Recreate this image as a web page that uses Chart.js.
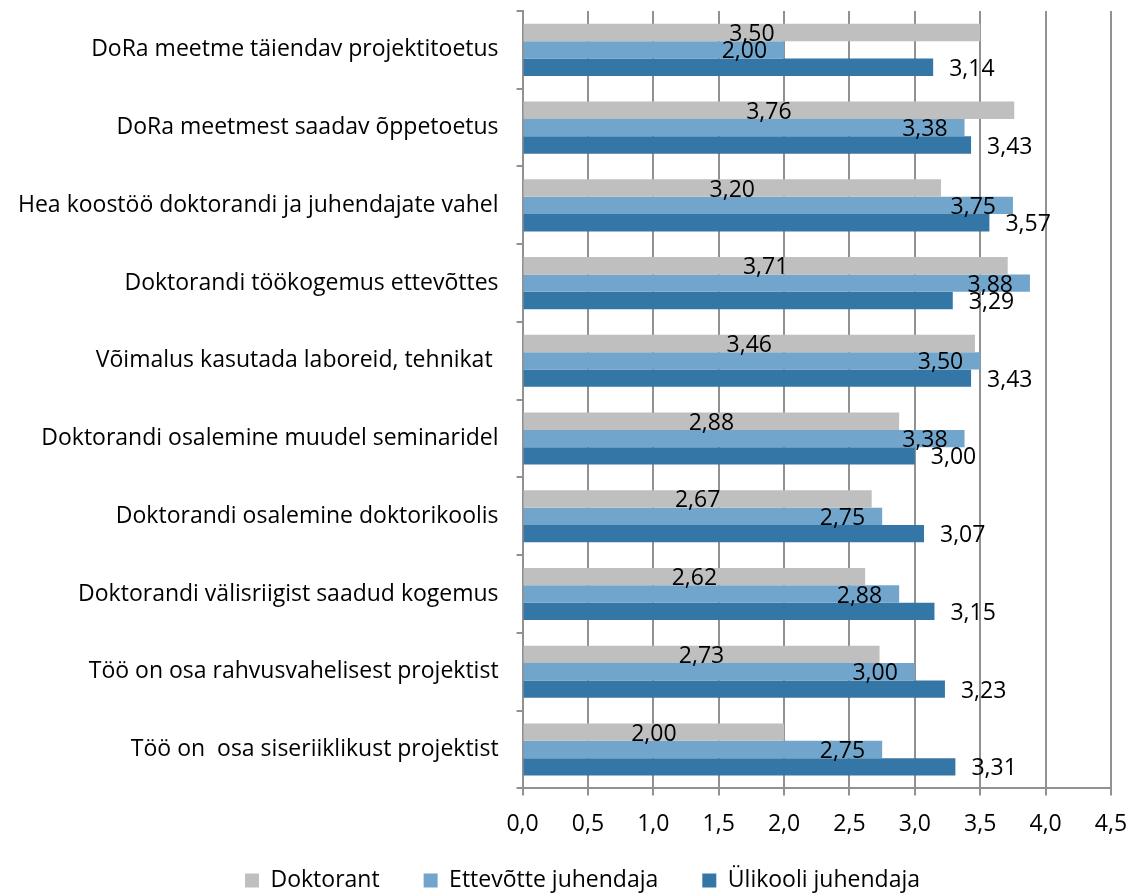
<!DOCTYPE html>
<html>
<head>
<meta charset="utf-8">
<script src="https://cdn.jsdelivr.net/npm/chart.js@4/dist/chart.umd.min.js"></script>
<style>
  html, body { margin: 0; padding: 0; background: #fff; }
  #wrap { width: 1134px; height: 893px; }
</style>
</head>
<body>
<div id="wrap"><canvas id="chart"></canvas></div>
<script>
// Categories (top to bottom) and series values
const categories = [
  'DoRa meetme täiendav projektitoetus',
  'DoRa meetmest saadav õppetoetus',
  'Hea koostöö doktorandi ja juhendajate vahel',
  'Doktorandi töökogemus ettevõttes',
  'Võimalus kasutada laboreid, tehnikat ',
  'Doktorandi osalemine muudel seminaridel',
  'Doktorandi osalemine doktorikoolis',
  'Doktorandi välisriigist saadud kogemus',
  'Töö on osa rahvusvahelisest projektist',
  'Töö on  osa siseriiklikust projektist'
];
const doktorant = [3.50, 3.76, 3.20, 3.71, 3.46, 2.88, 2.67, 2.62, 2.73, 2.00];
const ettevotteJuhendaja = [2.00, 3.38, 3.75, 3.88, 3.50, 3.38, 2.75, 2.88, 3.00, 2.75];
const ylikooliJuhendaja = [3.14, 3.43, 3.57, 3.29, 3.43, 3.00, 3.07, 3.15, 3.23, 3.31];
const seriesNames = ['Doktorant', 'Ettevõtte juhendaja', 'Ülikooli juhendaja'];

const FONT = '"Open Sans", "Noto Sans", sans-serif';
const FSIZE = 23;
const GRID = '#919191';
const comma = (v, d) => v.toFixed(d).replace('.', ',');

// Excel-like data labels: gray centered, light blue inside end, dark blue outside end
const barLabels = {
  id: 'barLabels',
  afterDatasetsDraw(chart) {
    const ctx = chart.ctx;
    ctx.save();
    ctx.font = `${FSIZE}px ${FONT}`;
    ctx.fillStyle = '#000';
    ctx.textBaseline = 'middle';
    chart.data.datasets.forEach((ds, di) => {
      const meta = chart.getDatasetMeta(di);
      meta.data.forEach((bar, i) => {
        const { x, y, base } = bar.getProps(['x', 'y', 'base'], true);
        const txt = comma(ds.data[i], 2);
        if (di === 0) {
          ctx.textAlign = 'center';
          ctx.fillText(txt, (x + base) / 2, y + 2);
        } else if (di === 1) {
          ctx.textAlign = 'right';
          ctx.fillText(txt, x - 17, y + 2);
        } else {
          ctx.textAlign = 'left';
          ctx.fillText(txt, x + 16, y + 2);
        }
      });
    });
    ctx.restore();
  }
};

// Legend sits a bit higher and right of where Chart.js would put it
const legendShift = {
  id: 'legendShift',
  afterLayout(chart) {
    const lg = chart.legend;
    if (!lg) return;
    lg.top = 825; lg.bottom = 893;
    lg.left += 27; lg.right += 27;
  }
};

new Chart(document.getElementById('chart').getContext('2d'), {
  type: 'bar',
  data: {
    labels: categories,
    datasets: [
      { label: seriesNames[0], data: doktorant, backgroundColor: '#bfbfbf' },
      { label: seriesNames[1], data: ettevotteJuhendaja, backgroundColor: '#72a5cb' },
      { label: seriesNames[2], data: ylikooliJuhendaja, backgroundColor: '#3476a6' }
    ]
  },
  options: {
    indexAxis: 'y',
    responsive: true, maintainAspectRatio: false,
    animation: false,
    datasets: { bar: { categoryPercentage: 0.67, barPercentage: 1.0, borderWidth: 0 } },
    layout: { padding: { top: 11, right: 23, bottom: 0, left: 0 } },
    plugins: {
      legend: {
        position: 'bottom',
        maxHeight: 40,
        labels: {
          font: { family: FONT, size: FSIZE }, color: '#000',
          boxWidth: 14, boxHeight: 14, padding: 44, useBorderRadius: false
        }
      },
      tooltip: { enabled: false }
    },
    scales: {
      x: {
        min: 0, max: 4.5,
        ticks: { stepSize: 0.5, color: '#000', font: { family: FONT, size: FSIZE }, padding: 15,
                 callback: v => comma(v, 1) },
        grid: { color: GRID, lineWidth: 2, tickLength: 7, drawTicks: true },
        border: { color: GRID, width: 2 },
        afterFit: s => { s.paddingRight = 0; }
      },
      y: {
        ticks: { color: '#000', font: { family: FONT, size: FSIZE }, padding: 18, autoSkip: false },
        grid: { drawOnChartArea: false, offset: true, color: GRID, lineWidth: 2, tickLength: 6 },
        border: { color: GRID, width: 2 },
        afterFit: s => { s.paddingTop = 0; s.paddingBottom = 0; }
      }
    }
  },
  plugins: [barLabels, legendShift]
});
</script>
</body>
</html>
